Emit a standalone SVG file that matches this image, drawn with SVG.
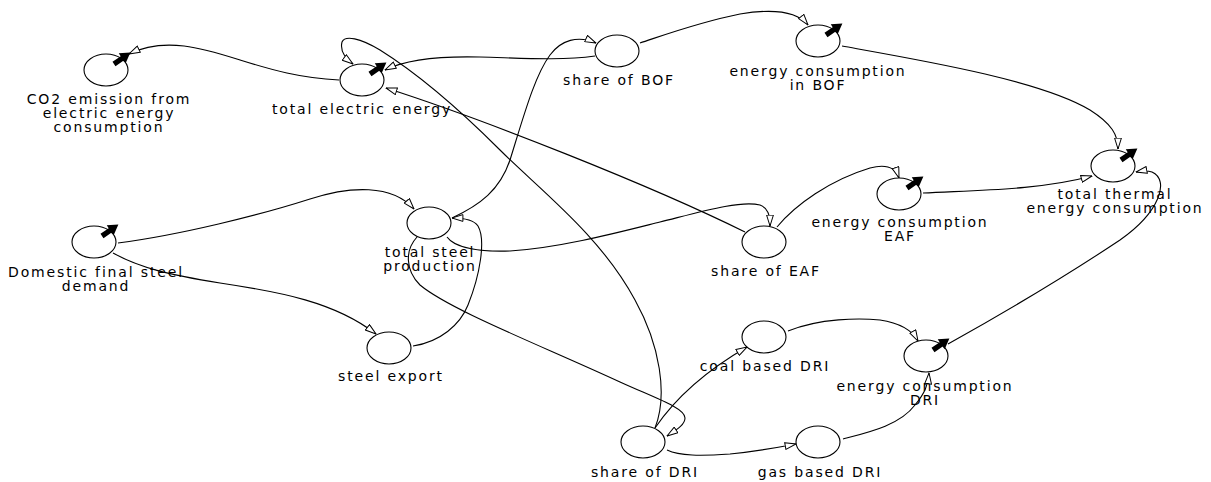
<svg xmlns="http://www.w3.org/2000/svg" xmlns:xlink="http://www.w3.org/1999/xlink" width="1211" height="482" viewBox="0 0 1211 482">
  <style>
    .node ellipse { fill: #fff; stroke: #000; stroke-width: 1.1; }
    .node text { font-family: "DejaVu Sans", Verdana, sans-serif; font-size: 14px; letter-spacing: 1.85px; fill: #000; text-anchor: middle; }
    .links path { fill: none; stroke: #000; stroke-width: 1.1; marker-end: url(#ah); }
  </style>
  <defs>
    <!-- hollow causal-link arrowhead -->
    <marker id="ah" viewBox="0 0 12 8" refX="11.5" refY="4" markerWidth="12" markerHeight="8" markerUnits="userSpaceOnUse" orient="auto">
      <path d="M0.6,0.6 L11.5,4 L0.6,7.4 z" fill="#fff" stroke="#000" stroke-width="1"/>
    </marker>
    <!-- thick black indicator arrow on variables -->
    <path id="lvl" d="M0,-2.6 L10,-2.6 L10,-6 L20,0 L10,6 L10,2.6 L0,2.6 z" fill="#000"/>
  </defs>

  <rect width="1211" height="482" fill="#fff"/>

  <g id="connectors" class="links">
    <!-- total electric energy -> CO2 emission -->
    <path d="M339,80 C300,78 272,70 240,60 C205,49 165,36 129,54"/>
    <!-- share of BOF -> total electric energy -->
    <path d="M595,56 C560,61 520,58 480,57 C440,56 405,60 385,70"/>
    <!-- share of EAF -> total electric energy -->
    <path d="M745,232 C650,185 480,118 386,88"/>
    <!-- total steel production -> share of BOF -->
    <path d="M452,218 C480,205 500,190 510,160 C524,115 535,75 550,55 C561,40 578,35 596,43"/>
    <!-- steel export -> total steel production -->
    <path d="M413,346 C440,342 460,325 468,305 C480,275 486,240 478,226 C474,220 466,218 452,218"/>
    <!-- Domestic final steel demand -> total steel production -->
    <path d="M118,243 C180,235 260,215 310,199 C350,186 392,184 414,209"/>
    <!-- Domestic final steel demand -> steel export -->
    <path d="M113,253 C140,268 170,275 220,283 C280,292 335,302 376,334"/>
    <!-- total steel production -> share of EAF -->
    <path d="M447,237 C455,248 480,252 510,251 C560,248 620,232 660,222 C700,212 740,200 760,205 C768,208 770,215 770,226"/>
    <!-- share of EAF -> energy consumption EAF -->
    <path d="M777,227 C795,205 830,180 870,168 C885,164 895,166 899,178"/>
    <!-- energy consumption EAF -> total thermal energy consumption -->
    <path d="M923,193 C980,190 1040,190 1092,176"/>
    <!-- energy consumption in BOF -> total thermal energy consumption -->
    <path d="M842,46 C920,60 1040,80 1090,110 C1112,124 1118,135 1118,149"/>
    <!-- share of BOF -> energy consumption in BOF -->
    <path d="M640,43 C670,33 700,22 740,14 C770,9 796,10 808,25"/>
    <!-- energy consumption DRI -> total thermal energy consumption -->
    <path d="M948,344 C1000,315 1060,280 1120,240 C1160,212 1170,180 1152,172 C1146,170 1141,171 1136,172"/>
    <!-- coal based DRI -> energy consumption DRI -->
    <path d="M788,331 C820,318 860,318 880,320 C900,323 912,330 918,341"/>
    <!-- gas based DRI -> energy consumption DRI -->
    <path d="M843,439 C870,432 900,425 915,405 C925,393 928,385 929,373"/>
    <!-- share of DRI -> coal based DRI -->
    <path d="M655,428 C672,403 702,373 747,347"/>
    <!-- share of DRI -> gas based DRI -->
    <path d="M667,450 C680,456 700,456 730,454 C760,451 780,447 796,444"/>
    <!-- total steel production -> share of DRI -->
    <path d="M417,237 C405,250 405,270 420,285 C450,310 540,345 620,382 C655,398 685,408 685,418 C685,425 676,430 667,436"/>
    <!-- share of DRI -> total electric energy -->
    <path d="M655,428 C668,395 660,345 635,300 C600,235 540,190 500,150 C460,110 420,75 380,50 C360,38 345,35 342,42 C340,50 345,58 353,64"/>
  </g>

  <g id="co2-emission" class="node">
    <ellipse cx="106" cy="70" rx="22" ry="16"/>
    <use xlink:href="#lvl" transform="translate(114,64) rotate(-35)"/>
    <text x="109" y="104">CO2 emission from</text>
    <text x="109" y="118">electric energy</text>
    <text x="109" y="132">consumption</text>
  </g>

  <g id="total-electric-energy" class="node">
    <ellipse cx="362" cy="80" rx="22" ry="16"/>
    <use xlink:href="#lvl" transform="translate(370,74) rotate(-35)"/>
    <text x="362" y="114">total electric energy</text>
  </g>

  <g id="share-of-bof" class="node">
    <ellipse cx="617" cy="51" rx="22" ry="16"/>
    <text x="619" y="85">share of BOF</text>
  </g>

  <g id="energy-consumption-bof" class="node">
    <ellipse cx="818" cy="41" rx="22" ry="16"/>
    <use xlink:href="#lvl" transform="translate(826,35) rotate(-35)"/>
    <text x="818" y="76">energy consumption</text>
    <text x="818" y="90">in BOF</text>
  </g>

  <g id="total-thermal-energy" class="node">
    <ellipse cx="1113" cy="166" rx="22" ry="16"/>
    <use xlink:href="#lvl" transform="translate(1121,160) rotate(-35)"/>
    <text x="1115" y="199">total thermal</text>
    <text x="1115" y="213">energy consumption</text>
  </g>

  <g id="energy-consumption-eaf" class="node">
    <ellipse cx="899" cy="194" rx="22" ry="16"/>
    <use xlink:href="#lvl" transform="translate(907,188) rotate(-35)"/>
    <text x="900" y="227">energy consumption</text>
    <text x="900" y="241">EAF</text>
  </g>

  <g id="domestic-steel-demand" class="node">
    <ellipse cx="94" cy="242" rx="22" ry="16"/>
    <use xlink:href="#lvl" transform="translate(102,236) rotate(-35)"/>
    <text x="96" y="277">Domestic final steel</text>
    <text x="96" y="291">demand</text>
  </g>

  <g id="total-steel-production" class="node">
    <ellipse cx="429" cy="223" rx="22" ry="16"/>
    <text x="430" y="257">total steel</text>
    <text x="430" y="271">production</text>
  </g>

  <g id="steel-export" class="node">
    <ellipse cx="389" cy="348" rx="22" ry="16"/>
    <text x="391" y="381">steel export</text>
  </g>

  <g id="share-of-eaf" class="node">
    <ellipse cx="764" cy="242" rx="22" ry="16"/>
    <text x="766" y="276">share of EAF</text>
  </g>

  <g id="coal-based-dri" class="node">
    <ellipse cx="764" cy="337" rx="22" ry="16"/>
    <text x="765" y="371">coal based DRI</text>
  </g>

  <g id="share-of-dri" class="node">
    <ellipse cx="643" cy="442" rx="22" ry="16"/>
    <text x="645" y="477">share of DRI</text>
  </g>

  <g id="gas-based-dri" class="node">
    <ellipse cx="818" cy="442" rx="22" ry="16"/>
    <text x="820" y="477">gas based DRI</text>
  </g>

  <g id="energy-consumption-dri" class="node">
    <ellipse cx="926" cy="356" rx="22" ry="16"/>
    <use xlink:href="#lvl" transform="translate(933,350) rotate(-35)"/>
    <text x="925" y="391">energy consumption</text>
    <text x="925" y="405">DRI</text>
  </g>
</svg>
